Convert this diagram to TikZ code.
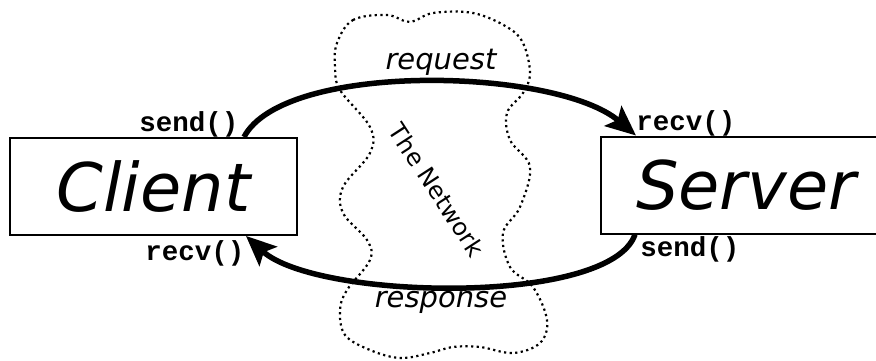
\documentclass[tikz,border=0pt]{standalone}
\usepackage{fontspec}
\setmainfont{DejaVu Sans}
\newfontfamily\codefont{Liberation Mono}
\usetikzlibrary{arrows.meta,positioning}

\begin{document}
\begin{tikzpicture}[x=1pt,y=-1pt]
    \tikzstyle{every node}+=[inner sep=0pt]
    \tikzstyle{host}=[draw, line width=2pt, minimum width=287pt, minimum height=97pt, font=\itshape\fontsize{67}{67}\selectfont]
    \tikzstyle{call}=[font=\codefont\bfseries\fontsize{27.5}{27.5}\selectfont]
    \tikzstyle{msg}=[line width=5.5pt, -{Stealth[length=30pt,width=26pt,inset=6pt]}]
    \tikzstyle{word}=[font=\itshape\fontsize{29}{29}\selectfont]
    \useasboundingbox (0,0) rectangle (876,360);
    % the network cloud
    \draw [line width=2.2pt, dash pattern=on 2.2pt off 3.4pt] plot [smooth cycle, tension=0.6] coordinates {
        (337,43) (353,20) (387,15) (410,22) (433,13) (473,13) (507,27) (523,43)
        (530,73) (523,93) (507,113) (510,140) (530,167) (520,207) (503,233)
        (510,267) (533,287) (547,320) (540,343) (513,353) (480,347) (453,347)
        (430,353) (400,358) (370,350) (345,335) (340,310) (347,290) (370,260)
        (367,240) (343,213) (343,187) (370,153) (370,127) (340,90) (335,67)};
    \node [rotate=-57, font=\fontsize{24}{24}\selectfont] (net) at (437,190) {The Network};
    % hosts
    \node [host] (client) at (153.5,186.5) {Client\hspace{10pt}};
    \node [host, minimum width=290pt, anchor=west] (server) at (600,185) {Server};
    % ends of the messages
    \coordinate (reqfrom) at ([xshift=-54pt]client.north east);
    \coordinate (reqto) at ([xshift=36pt]server.north west);
    \coordinate (resfrom) at ([xshift=35pt]server.south west);
    \coordinate (resto) at ([xshift=-52pt]client.south east);
    \draw [msg] (reqfrom) .. controls +(40,-76) and +(-80,-68) .. (reqto);
    \draw [msg] (resfrom) .. controls +(-25,72) and +(70,64) .. (resto);
    \node [word] (req) at (441,62) {request};
    \node [word] (res) at (441,302) {response};
    % socket calls
    \node [call] (clientsend) at (189,124) {send()};
    \node [call] (clientrecv) at (195,253) {recv()};
    \node [call] (serverrecv) at (686,123) {recv()};
    \node [call] (serversend) at (690,249) {send()};
\end{tikzpicture}
\end{document}
